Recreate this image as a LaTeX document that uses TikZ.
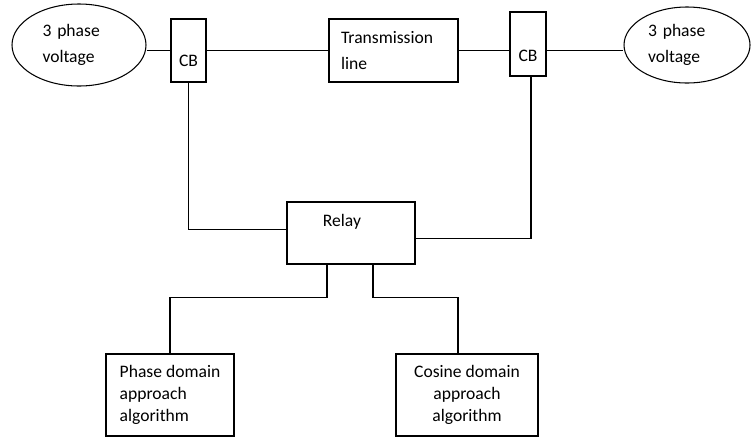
\documentclass[tikz,border=0pt]{standalone}
\usepackage{fontspec}
\setmainfont{Carlito}
\usetikzlibrary{shapes.geometric}
\begin{document}
\begin{tikzpicture}[line width=0.6pt, font=\fontsize{10}{12.3}\selectfont,
  box/.style={draw, rectangle, inner sep=0pt},
  src/.style={draw, ellipse, inner sep=0pt, align=left, font=\fontsize{10}{14.7}\selectfont}]
\useasboundingbox (0,0) rectangle (15.02,-8.74);
\node [src, minimum width=2.68cm, minimum height=1.64cm, text width=1.46cm] (src1) at (1.58,-0.9) {3 phase\\voltage};
\node [box, minimum width=0.7cm, minimum height=1.26cm, label={[yshift=-0.2cm]center:CB}] (cb1) at (3.77,-1.01) {};
\node [box, minimum width=2.58cm, minimum height=1.26cm, text width=2.1cm, inner xsep=0.24cm, align=left, font=\fontsize{10}{14.7}\selectfont] (line) at (7.87,-1.01) {Transmission\\line};
\node [box, minimum width=0.72cm, minimum height=1.28cm, label={[yshift=-0.24cm]center:CB}] (cb2) at (10.56,-0.88) {};
\node [src, minimum width=2.52cm, minimum height=1.52cm, text width=1.56cm] (src2) at (13.74,-0.9) {3 phase\\voltage};
\node [box, minimum width=2.56cm, minimum height=1.24cm, label={[anchor=north, xshift=-0.18cm, yshift=-0.12cm]north:Relay}] (relay) at (7.02,-4.66) {};
\node [box, minimum width=2.56cm, minimum height=1.64cm, align=left] (alg1) at (3.4,-7.9) {Phase domain\\approach\\algorithm};
\node [box, minimum width=2.84cm, minimum height=1.64cm, align=center] (alg2) at (9.34,-7.9) {Cosine domain\\approach\\algorithm};
\draw (src1.east |- cb1.west) -- (cb1.west);
\draw (cb1.east) -- (line.west);
\draw (line.east) -- (line.east -| cb2.west);
\draw (cb2.east |- line.east) -- (src2.west |- line.east);
\draw (cb1.south) |- (relay.177);
\draw ([xshift=0.06cm]cb2.south) |- (relay.-5);
\draw ([xshift=-0.48cm]relay.south) -- ++(0,-0.66) -| (alg1.north);
\draw ([xshift=0.44cm]relay.south) -- ++(0,-0.66) -| ([xshift=-0.18cm]alg2.north);
\end{tikzpicture}
\end{document}
